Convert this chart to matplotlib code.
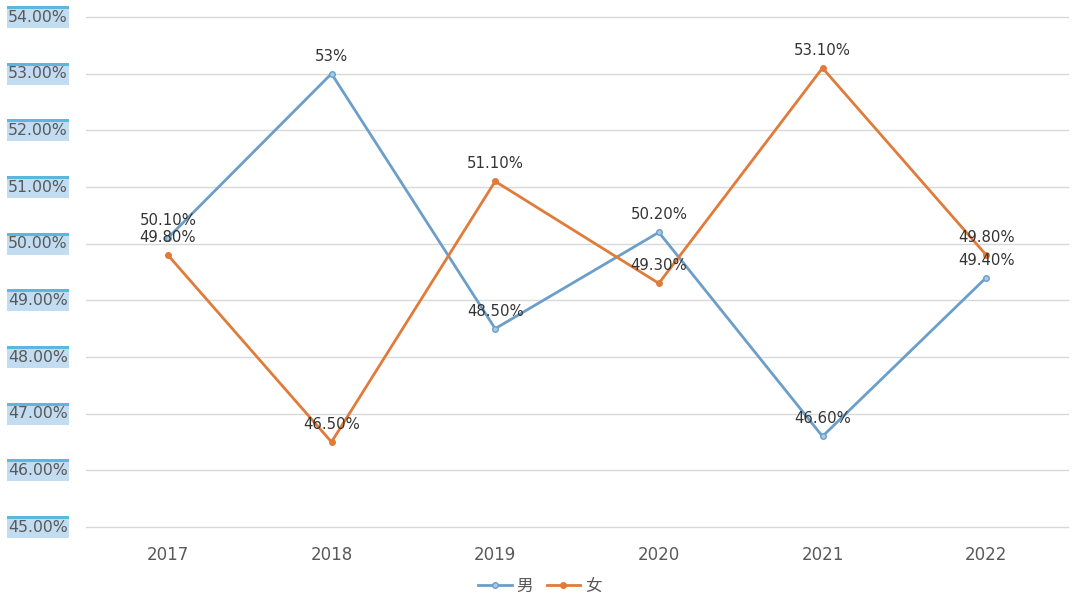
import matplotlib
matplotlib.use("Agg")
import matplotlib.pyplot as plt
from matplotlib.patches import Rectangle
from matplotlib import transforms

plt.rcParams['font.family'] = ['DejaVu Sans', 'Noto Sans CJK SC']

# дані
years = ['2017', '2018', '2019', '2020', '2021', '2022']
male = [50.1, 53.0, 48.5, 50.2, 46.6, 49.4]
female = [49.8, 46.5, 51.1, 49.3, 53.1, 49.8]
male_labels = ['50.10%', '53%', '48.50%', '50.20%', '46.60%', '49.40%']
female_labels = ['49.80%', '46.50%', '51.10%', '49.30%', '53.10%', '49.80%']
yticks = [45, 46, 47, 48, 49, 50, 51, 52, 53, 54]

W, H = 1080, 608
fig = plt.figure(figsize=(W / 100, H / 100), dpi=100)
ax = fig.add_axes([86 / W, (H - 527) / H, (1068 - 86) / W, (527 - 17) / H])

blue = '#6b9ec8'
orange = '#e07b39'
x = range(len(years))

ax.plot(x, male, color=blue, lw=2, marker='o', ms=4,
        mfc='#a9cbe6', mec=blue, mew=1, label='男', zorder=3)
ax.plot(x, female, color=orange, lw=2, marker='o', ms=4,
        mfc=orange, mec=orange, label='女', zorder=3)

for i in x:
    ax.annotate(male_labels[i], (i, male[i]), xytext=(0, 12.5), textcoords='offset points',
                ha='center', va='center', fontsize=10.7, color='#333333', zorder=4)
    ax.annotate(female_labels[i], (i, female[i]), xytext=(0, 12.5), textcoords='offset points',
                ha='center', va='center', fontsize=10.7, color='#333333', zorder=4)

ax.set_xlim(-0.5, len(years) - 0.5)
ax.set_ylim(45, 54)
ax.set_yticks(yticks)
ax.set_yticklabels([])
ax.set_xticks(list(x))
ax.set_xticklabels(years, fontsize=12, color='#595959')
ax.tick_params(length=0, pad=14)
ax.grid(axis='y', color='#d9d9d9', lw=1)
for gl in ax.get_ygridlines():
    gl.set_clip_on(False)
ax.set_axisbelow(True)
for s in ax.spines.values():
    s.set_visible(False)

# підписи осі Y з блакитним фоном
tr = transforms.blended_transform_factory(fig.transFigure, ax.transData)
upp = 9 / (527 - 17)  # одиниць даних на піксель
for v in yticks:
    ax.add_patch(Rectangle((7 / W, v - 11 * upp), 62 / W, 22 * upp, transform=tr,
                           facecolor='#c2dcf1', edgecolor='none', clip_on=False, zorder=1))
    ax.add_patch(Rectangle((7 / W, v + 8 * upp), 62 / W, 3 * upp, transform=tr,
                           facecolor='#5cb6df', edgecolor='none', clip_on=False, zorder=2))
    ax.text(8 / W, v, f'{v:.2f}%', transform=tr, ha='left', va='center',
            fontsize=11.3, color='#595959', zorder=3)

ax.legend(loc='center', bbox_to_anchor=(0.5, (H - 586) / H), bbox_transform=fig.transFigure,
          ncol=2, frameon=False, fontsize=12, handlelength=2, columnspacing=0.8,
          handletextpad=0.3, labelcolor='#595959')

fig.savefig('out.png', dpi=100)
